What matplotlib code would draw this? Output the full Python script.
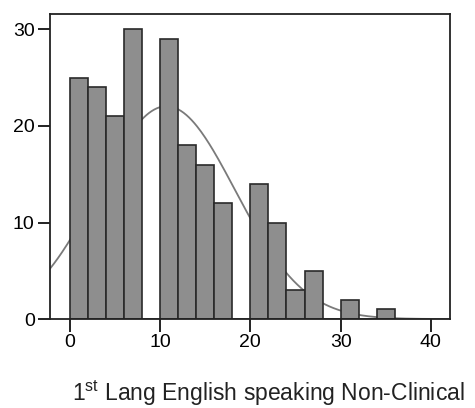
import numpy as np
import matplotlib.pyplot as plt

# histogram bins (left edges, width 2) and counts
bin_left = [0, 2, 4, 6, 8, 10, 12, 14, 16, 18, 20, 22, 24, 26, 28, 30, 32, 34]
counts = [25, 24, 21, 30, 0, 29, 18, 16, 12, 0, 14, 10, 3, 5, 0, 2, 0, 1]
bin_width = 2

# fitted normal curve parameters (SPSS style overlay)
curve_mean = 10.7
curve_sd = 7.6
n_total = sum(counts)

x_ticks = [0, 10, 20, 30, 40]
y_ticks = [0, 10, 20, 30]
xlabel = '1$^{\\mathregular{st}}$ Lang English speaking Non-Clinical'

plt.rcParams['font.family'] = ['Liberation Sans', 'DejaVu Sans']

fig = plt.figure(figsize=(4.75, 4.08), dpi=100)
ax = fig.add_axes([0.1053, 0.218, 0.8417, 0.7477])

# normal curve behind the bars
xs = np.linspace(-2.2, 42.1, 300)
ys = n_total * bin_width / (curve_sd * np.sqrt(2 * np.pi)) * np.exp(-(xs - curve_mean) ** 2 / (2 * curve_sd ** 2))
ax.plot(xs, ys, color='#7a7a7a', lw=1.3, zorder=1)

ax.bar(bin_left, counts, width=bin_width, align='edge', color='#8e8e8e',
       edgecolor='#2a2a2a', linewidth=1.2, zorder=2)

ax.set_xlim(-2.2, 42.1)
ax.set_ylim(0, 31.6)
ax.set_xticks(x_ticks)
ax.set_yticks(y_ticks)
ax.tick_params(direction='out', length=9, width=1.4, labelsize=14, pad=2, color='#222222')
for s in ax.spines.values():
    s.set_linewidth(1.3)
    s.set_color('#222222')

ax.set_xlabel(xlabel, fontsize=16.5, color='#222222')
ax.xaxis.set_label_coords(0.545, -0.195)

fig.savefig('out.png', dpi=100)
